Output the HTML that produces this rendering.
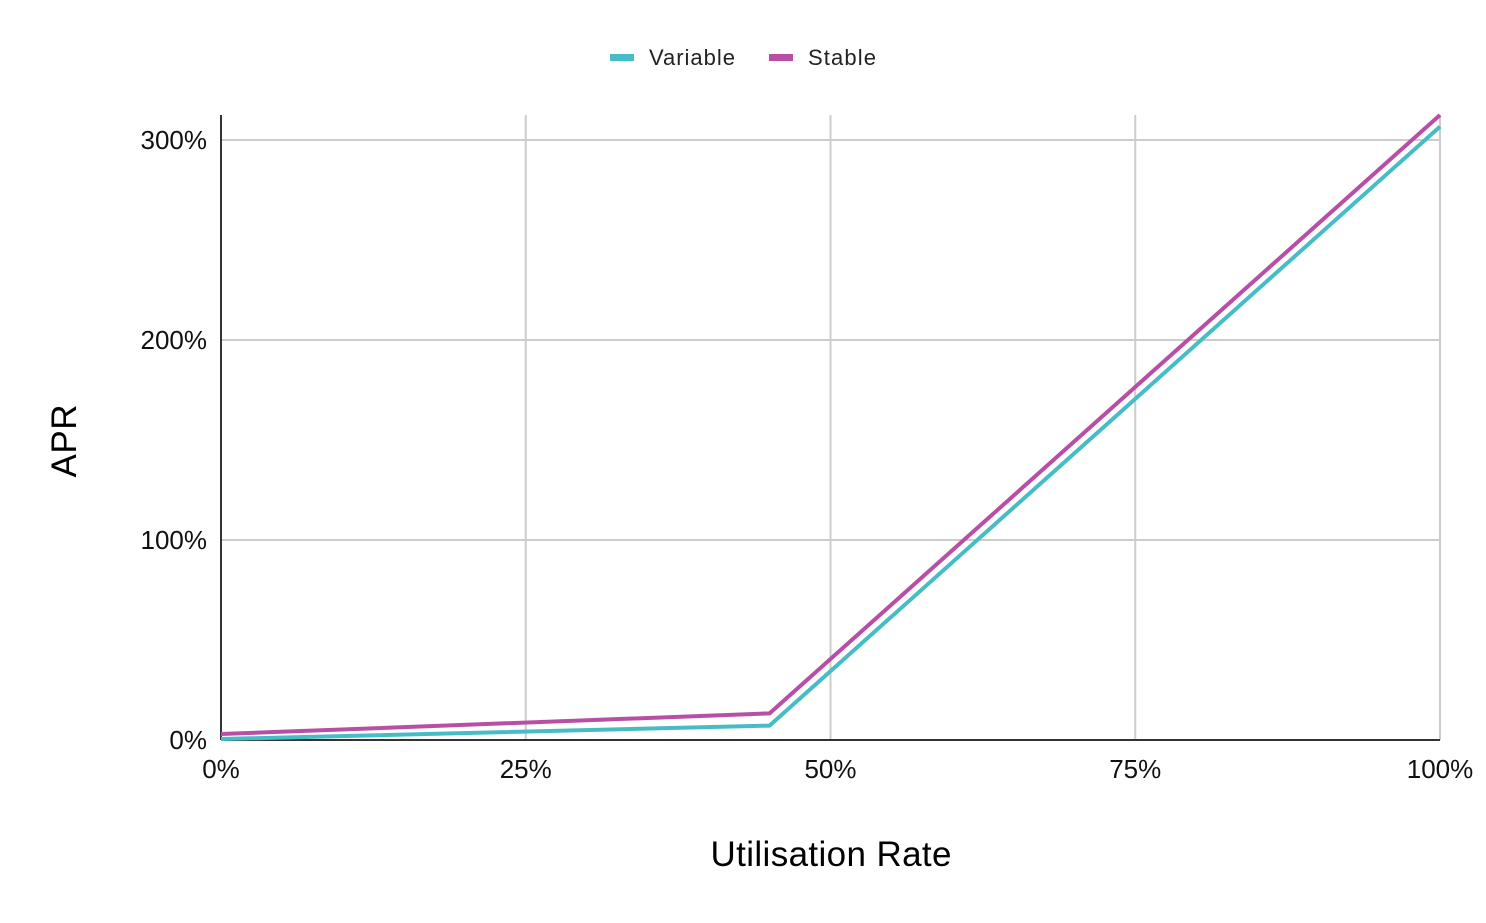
<!DOCTYPE html>
<html><head><meta charset="utf-8"><style>
body{margin:0;background:#fff;font-family:"Liberation Sans",Arial,sans-serif}
</style></head><body>
<svg id="chart" width="1486" height="918" xmlns="http://www.w3.org/2000/svg" font-family="Liberation Sans, Arial, sans-serif">
<g id="grid"></g>
<g id="series"></g>
<g id="legend">
 <rect x="610" y="54" width="24" height="7" fill="#46bdc6"/>
 <text x="649" y="65" font-size="22" textLength="86" fill="#222">Variable</text>
 <rect x="769" y="54" width="24" height="7" fill="#b84fa4"/>
 <text x="808" y="65" font-size="22" textLength="68" fill="#222">Stable</text>
</g>
<text x="831" y="866" font-size="35" text-anchor="middle" textLength="241" fill="#000">Utilisation Rate</text>
<text transform="translate(76,441) rotate(-90)" font-size="35" text-anchor="middle" textLength="73" fill="#000">APR</text>
</svg>
<script>
const xTicks=[0,25,50,75,100];
const yTicks=[0,100,200,300];
const utilisation=[0,45,100];
const variableAPR=[0.5,7.2,306.7];
const stableAPR=[3,13.3,312.5];
const X0=221,X1=1440,Y0=740,Y1=140;
const sx=v=>X0+(v/100)*(X1-X0);
const sy=v=>Y0-(v/300)*(Y0-Y1);
const NS="http://www.w3.org/2000/svg";
const grid=document.getElementById('grid'),ser=document.getElementById('series');
function mk(tag,attrs,parent){const e=document.createElementNS(NS,tag);for(const k in attrs)e.setAttribute(k,attrs[k]);parent.appendChild(e);return e;}
xTicks.forEach(t=>{
 if(t>0){const l=mk('line',{x1:sx(t),x2:sx(t),y1:115,y2:Y0,stroke:'#ccc','stroke-width':2},grid);
 
 }
 const tx=mk('text',{x:sx(t),y:778,'font-size':26,'text-anchor':'middle',fill:'#111'},grid);tx.textContent=t+'%';
 
 
});
yTicks.forEach(t=>{
 if(t>0){const l=mk('line',{x1:X0,x2:X1,y1:sy(t),y2:sy(t),stroke:'#ccc','stroke-width':2},grid);
 
 }
 const tx=mk('text',{x:207,y:sy(t)+9,'font-size':26,'text-anchor':'end',fill:'#111'},grid);tx.textContent=t+'%';
 
 
});
const ya=mk('line',{x1:X0,x2:X0,y1:115,y2:Y0,stroke:'#333','stroke-width':2},grid);


const xa=mk('line',{x1:X0,x2:X1,y1:Y0,y2:Y0,stroke:'#333','stroke-width':2},grid);


function line(vals,color,name){
 const p=mk('polyline',{points:utilisation.map((u,i)=>sx(u)+','+sy(vals[i])).join(' '),fill:'none',stroke:color,'stroke-width':4,'stroke-linejoin':'miter'},ser);
 
 
}
line(variableAPR,'#46bdc6','variable-line');
line(stableAPR,'#b84fa4','stable-line');
</script>
</body></html>
